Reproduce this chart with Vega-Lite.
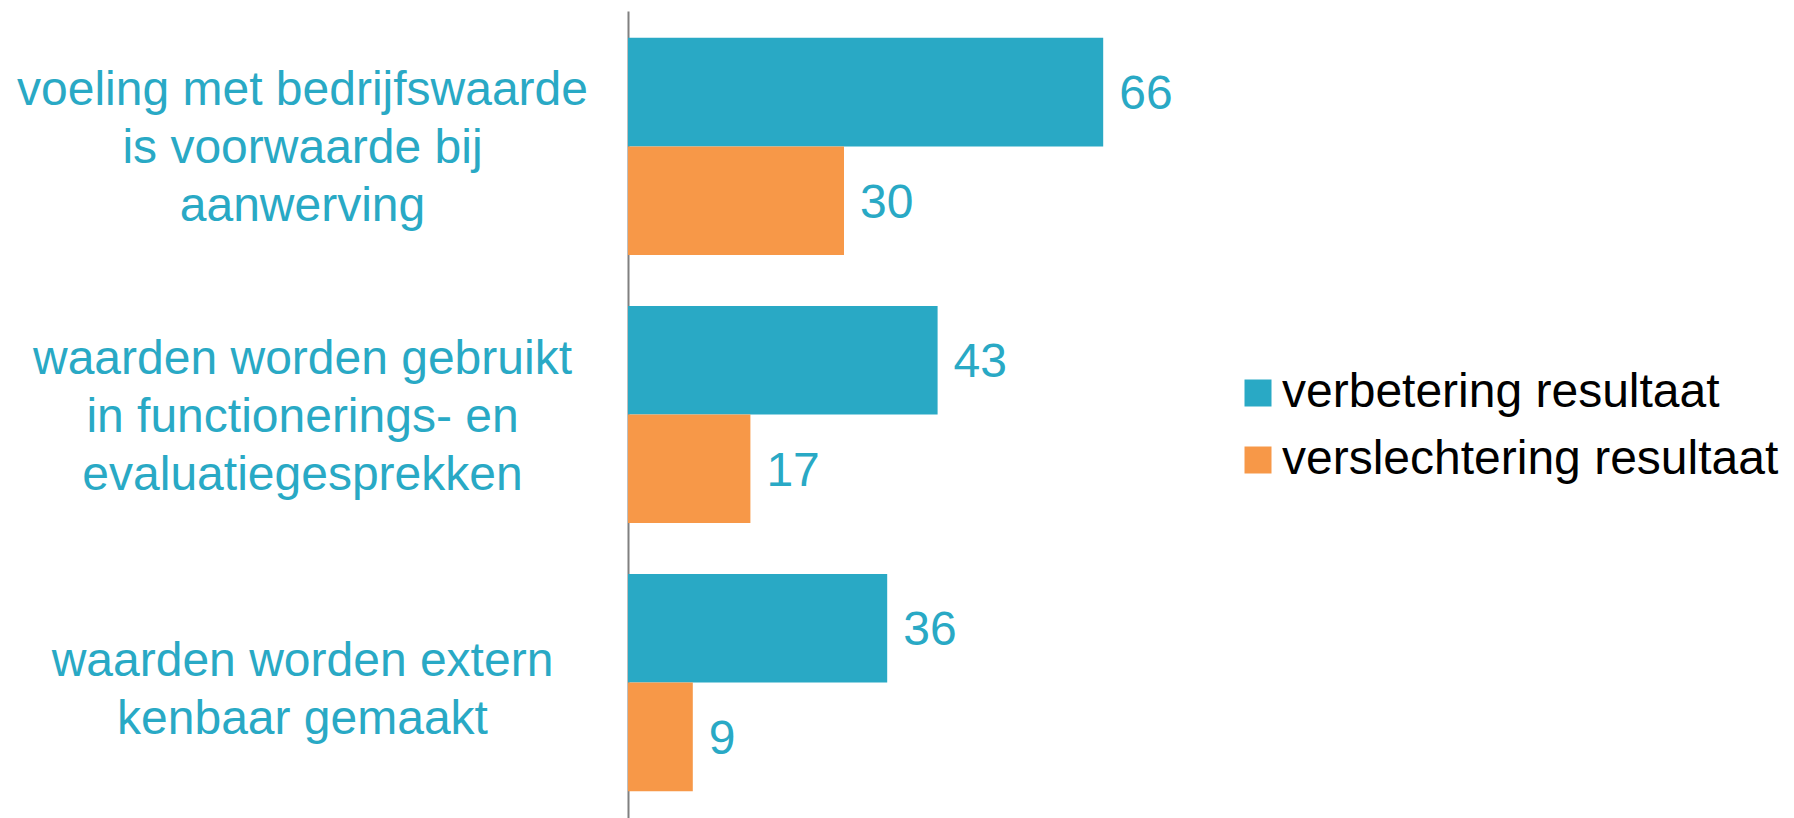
{
  "$schema": "https://vega.github.io/schema/vega-lite/v6.json",
  "width": 720,
  "height": 807,
  "autosize": "none",
  "padding": {"left": 628, "top": 11, "right": 446, "bottom": 0},
  "background": "#ffffff",
  "config": {
    "font": "Liberation Sans",
    "view": {"stroke": null}
  },
  "data": {
    "values": [
      {"categorie": "voeling met bedrijfswaarde|is voorwaarde bij|aanwerving", "reeks": "verbetering resultaat", "waarde": 66},
      {"categorie": "voeling met bedrijfswaarde|is voorwaarde bij|aanwerving", "reeks": "verslechtering resultaat", "waarde": 30},
      {"categorie": "waarden worden gebruikt|in functionerings- en|evaluatiegesprekken", "reeks": "verbetering resultaat", "waarde": 43},
      {"categorie": "waarden worden gebruikt|in functionerings- en|evaluatiegesprekken", "reeks": "verslechtering resultaat", "waarde": 17},
      {"categorie": "waarden worden extern|kenbaar gemaakt", "reeks": "verbetering resultaat", "waarde": 36},
      {"categorie": "waarden worden extern|kenbaar gemaakt", "reeks": "verslechtering resultaat", "waarde": 9}
    ]
  },
  "encoding": {
    "y": {
      "field": "categorie",
      "type": "nominal",
      "sort": null,
      "scale": {"paddingInner": 0.19, "paddingOuter": 0.1},
      "axis": {
        "title": null,
        "ticks": false,
        "grid": false,
        "domain": true,
        "domainColor": "#808080",
        "domainWidth": 2,
        "labelExpr": "split(datum.label, '|')",
        "labelAlign": "center",
        "labelBaseline": "middle",
        "labelPadding": 326,
        "labelFontSize": 48,
        "labelLineHeight": 58,
        "labelColor": "#29A9C5",
        "labelLimit": 0,
        "labelOffset": {"condition": {"test": "indexof(datum.value, 'kenbaar') >= 0", "value": -21}, "value": -55}
      }
    },
    "yOffset": {"field": "reeks", "type": "nominal", "sort": null, "scale": {"paddingInner": 0, "paddingOuter": 0}},
    "x": {
      "field": "waarde",
      "type": "quantitative",
      "scale": {"domain": [0, 100]},
      "axis": null
    }
  },
  "layer": [
    {
      "mark": {"type": "bar"},
      "encoding": {
        "color": {
          "field": "reeks",
          "type": "nominal",
          "sort": null,
          "scale": {"domain": ["verbetering resultaat", "verslechtering resultaat"], "range": ["#29A9C5", "#F79848"]},
          "legend": {
            "title": null,
            "orient": "none",
            "legendX": 606,
            "legendY": 358,
            "symbolType": "square",
            "symbolSize": 729,
            "symbolStrokeWidth": 0,
            "labelFontSize": 48,
            "labelColor": "#000000",
            "labelOffset": 0,
            "rowPadding": 19,
            "labelLimit": 0
          }
        }
      }
    },
    {
      "mark": {"type": "text", "align": "left", "baseline": "middle", "dx": 16, "dy": 3, "fontSize": 48, "color": "#29A9C5"},
      "encoding": {
        "text": {"field": "waarde", "type": "quantitative"}
      }
    }
  ]
}
